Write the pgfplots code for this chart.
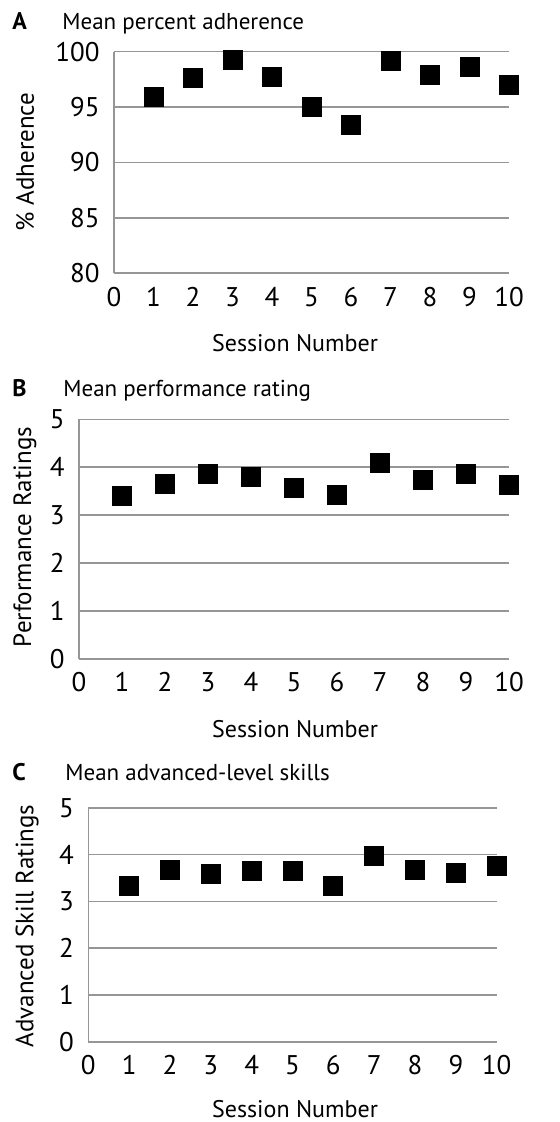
\documentclass[border=0pt]{standalone}
\usepackage{pgfplots}
\pgfplotsset{compat=1.18}
\usepackage{fontspec}
\setmainfont{PT Sans}
\definecolor{gridgray}{RGB}{150,150,150}
\pgfplotsset{
  panel/.style={
    scale only axis,
    clip=false,
    axis x line=bottom,
    axis y line=left,
    axis line style={draw=gridgray, line width=0.8pt, -},
    ymajorgrids,
    grid style={draw=gridgray, line width=0.8pt},
    major tick length=0pt,
    xmin=0, xmax=10,
    xtick={0,1,...,10},
    /pgf/number format/assume math mode=true,
    ticklabel style={font=\fontsize{13.5}{15}\selectfont},
    xticklabel style={anchor=base, inner sep=0pt, yshift=-16.5pt},
    yticklabel style={anchor=east, inner sep=0pt, xshift=-7pt},
  },
  sq/.style={only marks, mark=square*, mark size=4.75pt, mark options={fill=black, draw=black}},
}
\begin{document}
\begin{tikzpicture}
\path[use as bounding box] (0,0) rectangle (280pt,-561pt);
% Panel A
\begin{axis}[panel, at={(57pt,-136.65pt)}, anchor=south west,
  width=197.5pt, height=110.8pt, ymin=80, ymax=100, ytick={80,85,90,95,100}]
\addplot[sq] coordinates {(1,95.94) (2,97.6) (3,99.25) (4,97.74) (5,94.98) (6,93.38) (7,99.16) (8,97.9) (9,98.65) (10,96.99)};
\end{axis}
% Panel B
\begin{axis}[panel, at={(39.5pt,-329.35pt)}, anchor=south west,
  width=215pt, height=119.7pt, ymin=0, ymax=5, ytick={0,1,2,3,4,5}]
\addplot[sq] coordinates {(1,3.40) (2,3.66) (3,3.86) (4,3.80) (5,3.57) (6,3.42) (7,4.08) (8,3.73) (9,3.86) (10,3.64)};
\end{axis}
% Panel C
\begin{axis}[panel, at={(44.15pt,-520.85pt)}, anchor=south west,
  width=204.2pt, height=117pt, ymin=0, ymax=5, ytick={0,1,2,3,4,5}]
\addplot[sq] coordinates {(1,3.33) (2,3.67) (3,3.58) (4,3.65) (5,3.65) (6,3.33) (7,3.97) (8,3.68) (9,3.60) (10,3.76)};
\end{axis}
% Titles
\begin{scope}[every node/.style={inner sep=0pt}]
\node[anchor=base west, font=\fontsize{12}{14}\selectfont\bfseries] at (6pt,-15pt) {A};
\node[anchor=base west, font=\fontsize{11.5}{14}\selectfont] at (31pt,-15pt) {Mean percent adherence};
\node[anchor=base west, font=\fontsize{12}{14}\selectfont\bfseries] at (6pt,-198.3pt) {B};
\node[anchor=base west, font=\fontsize{11.5}{14}\selectfont] at (31.5pt,-198.3pt) {Mean performance rating};
\node[anchor=base west, font=\fontsize{12}{14}\selectfont\bfseries] at (6pt,-390pt) {C};
\node[anchor=base west, font=\fontsize{11.5}{14}\selectfont] at (32.5pt,-390pt) {Mean advanced-level skills};
% y labels
\node[rotate=90, font=\fontsize{12.5}{14}\selectfont] at (12.5pt,-81pt) {\% Adherence};
\node[rotate=90, font=\fontsize{12.5}{14}\selectfont] at (12.5pt,-268.5pt) {Performance Ratings};
\node[rotate=90, font=\fontsize{12.5}{14}\selectfont] at (13.5pt,-463pt) {Advanced Skill Ratings};
% x labels
\node[anchor=base, font=\fontsize{12}{14}\selectfont] at (147.5pt,-176pt) {Session Number};
\node[anchor=base, font=\fontsize{12}{14}\selectfont] at (147.5pt,-368.5pt) {Session Number};
\node[anchor=base, font=\fontsize{12}{14}\selectfont] at (147.5pt,-558.5pt) {Session Number};
\end{scope}
\end{tikzpicture}
\end{document}
